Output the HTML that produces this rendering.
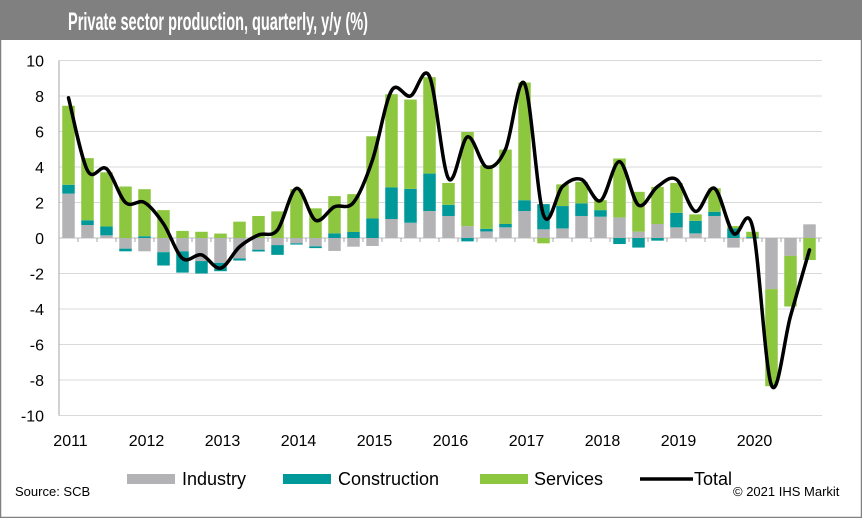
<!DOCTYPE html>
<html><head><meta charset="utf-8"><style>
html,body{margin:0;padding:0;background:#fff}
svg{display:block;font-family:"Liberation Sans",Arial,sans-serif}
</style></head><body>
<svg id="c" width="862" height="518" viewBox="0 0 862 518">
<rect x="0.5" y="0.5" width="861" height="517" fill="#fff" stroke="#808080" stroke-width="1.5"/>
<rect x="0" y="0" width="862" height="40" fill="#808080"/>
<text x="68" y="30" fill="#fff" font-size="25" font-weight="bold" textLength="300" lengthAdjust="spacingAndGlyphs">Private sector production, quarterly, y/y (%)</text>
<g id="grid"></g><g id="bars"></g><g id="axes"></g><g id="line"></g>
<g>
<rect x="127" y="474" width="48" height="10" fill="#b3b3b5"/>
<text x="182" y="485" font-size="18" fill="#000">Industry</text>
<rect x="283" y="474" width="48" height="10" fill="#00999a"/>
<text x="338" y="485" font-size="18" fill="#000">Construction</text>
<rect x="480" y="474" width="48" height="10" fill="#8dc63f"/>
<text x="534" y="485" font-size="18" fill="#000">Services</text>
<line x1="640" y1="479" x2="693" y2="479" stroke="#000" stroke-width="3.5"/>
<text x="694" y="485" font-size="18" fill="#000">Total</text>
</g>
<text x="15" y="496" font-size="13" fill="#000">Source: SCB</text>
<text x="733" y="496" font-size="13" fill="#000">© 2021 IHS Markit</text>
</svg>
<script>
const years = ["2011","2012","2013","2014","2015","2016","2017","2018","2019","2020"];
const yTicks = [10,8,6,4,2,0,-2,-4,-6,-8,-10];
const industry = [2.5,0.73,0.15,-0.6, -0.75,-0.8,-0.75,-1.3, -1.4,-1.15,-0.66,-0.4, -0.3,-0.47,-0.73,-0.49, -0.45,1.07,0.86,1.52, 1.24,0.67,0.37,0.6, 1.52,0.49,0.54,1.24, 1.2,1.16,0.36,0.79, 0.6,0.26,1.24,-0.54, -0.05,-2.88,-1.01,0.77];
const construction = [0.5,0.27,0.5,-0.15, 0.1,-0.75,-1.2,-0.7, -0.47,-0.12,-0.1,-0.55, -0.07,-0.1,0.26,0.34, 1.1,1.78,1.91,2.11, 0.63,-0.19,0.15,0.19, 0.61,1.42,1.26,0.71, 0.37,-0.34,-0.54,-0.15, 0.82,0.71,0.24,0.54, 0.05,0,0,0];
const services = [4.45,3.5,3.05,2.9, 2.65,1.57,0.4,0.35, 0.25,0.92,1.24,1.5, 2.75,1.67,2.1,2.13, 4.63,5.25,5.03,5.43, 1.23,5.3,3.58,4.19, 6.63,-0.3,1.22,1.21, 0.56,3.32,2.24,2.09, 1.68,0.36,1.32,0.13, 0.3,-5.47,-2.85,-1.24];
const total = [7.9,3.8,3.9,2.0, 2.0,0.8,-1.15,-0.95, -1.7,-0.5,0.17,0.45, 2.8,1.0,1.76,2.0, 4.4,8.3,8.0,9.1, 3.35,5.7,4.0,5.0, 8.7,1.3,2.9,3.3, 2.1,4.3,1.85,2.9, 3.3,1.5,2.8,0.26, 0.64,-8.3,-4.4,-0.67];

const NS="http://www.w3.org/2000/svg";
const X0=59, STEP=19, BW=12.5;
function y(v){return 238 - v*17.75;}
function xc(i){return X0 + STEP*(i+0.5);}
function mk(tag,attrs,parent){const e=document.createElementNS(NS,tag);for(const k in attrs)e.setAttribute(k,attrs[k]);parent.appendChild(e);return e;}
const grid=document.getElementById('grid'),bars=document.getElementById('bars'),axes=document.getElementById('axes'),lineG=document.getElementById('line');
yTicks.forEach(t=>{
  const l=mk('line',{x1:X0,x2:822,y1:y(t),y2:y(t),stroke:t===0?'#bfbfbf':'#d9d9d9','stroke-width':1},grid);
  
  
  const tx=mk('text',{x:44,y:y(t)+6,'text-anchor':'end','font-size':16,fill:'#000'},axes);
  tx.textContent=String(t);
  
  
});
const ax=mk('line',{x1:X0,x2:X0,y1:y(10),y2:y(-10),stroke:'#a6a6a6','stroke-width':1},axes);


for(let i=0;i<=total.length;i++){
  const tk=mk('line',{x1:X0+STEP*i,x2:X0+STEP*i,y1:238,y2:242,stroke:'#a6a6a6','stroke-width':1},axes);
  
  
}
years.forEach((yr,k)=>{
  const tx=mk('text',{x:xc(k*4)+2,y:446,'text-anchor':'middle','font-size':16,fill:'#000'},axes);
  tx.textContent=yr;
  
  
});
const series=[[industry,'#b3b3b5','industry'],[construction,'#00999a','construction'],[services,'#8dc63f','services']];
total.forEach((_,i)=>{
  let pos=0,neg=0;
  series.forEach(([arr,col,nm])=>{
    const v=arr[i]; if(!v) return;
    let a,b;
    if(v>0){a=pos;b=pos+v;pos=b;}else{a=neg;b=neg+v;neg=b;}
    const top=Math.min(y(a),y(b)),h=Math.abs(y(a)-y(b));
    const r=mk('rect',{x:xc(i)-BW/2,y:top,width:BW,height:h,fill:col},bars);
    
    
  });
});
const pts=total.map((v,i)=>[xc(i),y(v)]);
let d='M'+pts[0][0]+','+pts[0][1];
for(let i=0;i<pts.length-1;i++){
  const p0=pts[i-1]||pts[i],p1=pts[i],p2=pts[i+1],p3=pts[i+2]||p2;
  const c1=[p1[0]+(p2[0]-p0[0])/6,p1[1]+(p2[1]-p0[1])/6];
  const c2=[p2[0]-(p3[0]-p1[0])/6,p2[1]-(p3[1]-p1[1])/6];
  d+=' C'+c1[0]+','+c1[1]+' '+c2[0]+','+c2[1]+' '+p2[0]+','+p2[1];
}
const pl=mk('path',{d:d,fill:'none',stroke:'#000','stroke-width':3.5,'stroke-linejoin':'round','stroke-linecap':'round'},lineG);


</script>
</body></html>
